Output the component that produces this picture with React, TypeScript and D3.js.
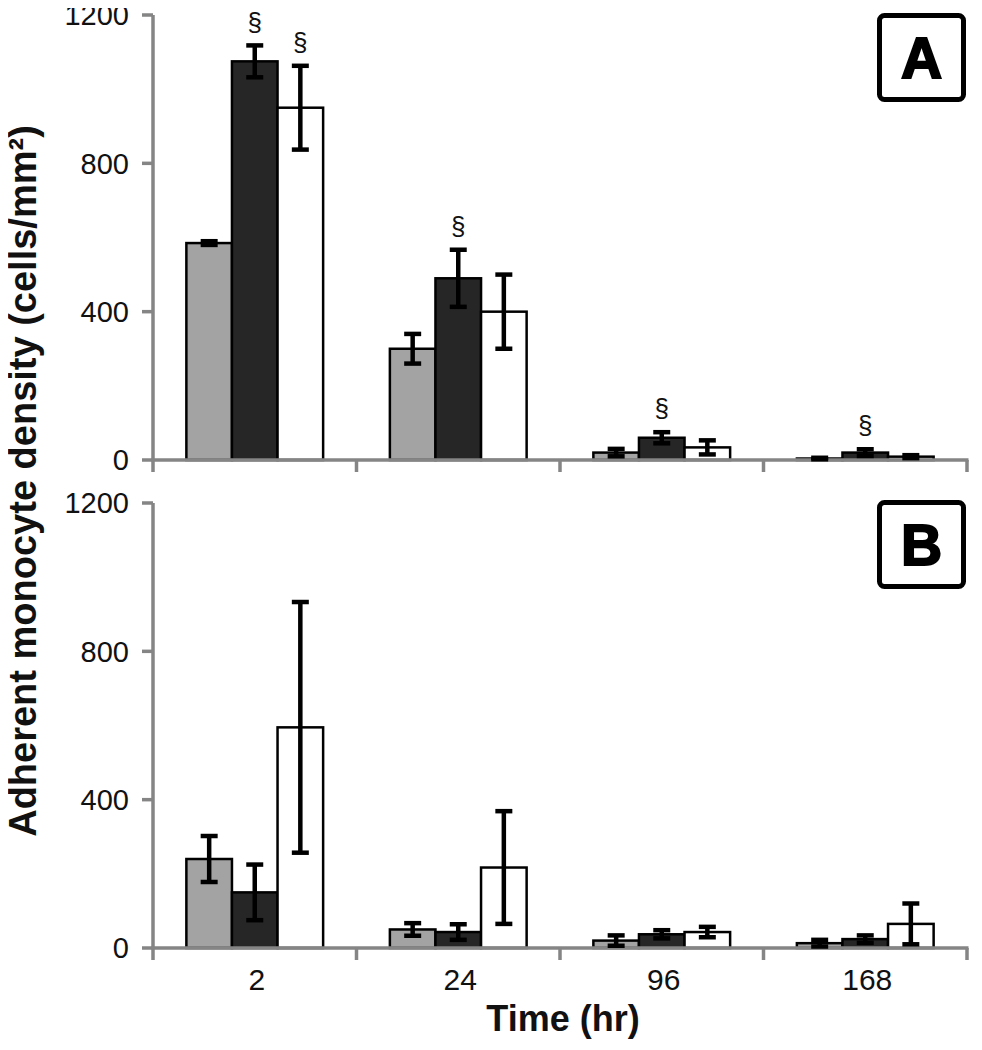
import React from "react";
import * as d3 from "d3";

const categories = ["2", "24", "96", "168"];
const seriesNames = ["gray", "dark", "white"];
const seriesFill = ["#a3a3a3", "#262626", "#ffffff"];
const yTicks = [0, 400, 800, 1200];

// Panel A
const aGray = [585, 300, 20, 4];
const aGrayErr = [5, 40, 10, 2];
const aDark = [1075, 490, 60, 20];
const aDarkErr = [43, 77, 15, 9];
const aWhite = [950, 400, 34, 9];
const aWhiteErr = [113, 100, 19, 4];
const aSigDark = [true, true, true, true];
const aSigWhite = [true, false, false, false];

// Panel B
const bGray = [240, 50, 20, 13];
const bGrayErr = [62, 17, 14, 9];
const bDark = [150, 43, 37, 24];
const bDarkErr = [75, 21, 11, 10];
const bWhite = [595, 217, 43, 65];
const bWhiteErr = [338, 152, 14, 55];

const W = 982;
const H = 1050;
const xLeft = 153;
const xRight = 967;
const FONT = "'Liberation Sans', Arial, sans-serif";
const AXIS = "#858585";

type PanelProps = {
  top: number;
  base: number;
  values: number[][];
  errs: number[][];
  sig: boolean[][];
  label: string;
  boxTop: number;
  showXLabels: boolean;
};

function Panel({ top, base, values, errs, sig, label, boxTop, showXLabels }: PanelProps) {
  const x = d3.scaleBand<string>().domain(categories).range([xLeft, xRight]).paddingInner(0).paddingOuter(0);
  const groupW = x.bandwidth() * 0.672;
  const inner = d3.scaleBand<string>().domain(seriesNames).range([0, groupW]);
  const y = d3.scaleLinear().domain([0, 1200]).range([base, top]);
  const capW = 17;
  return (
    <g>
      {categories.map((c, i) => {
        const g0 = (x(c) as number) + (x.bandwidth() - groupW) / 2;
        return (
          <g key={c}>
            {seriesNames.map((s, k) => {
              const v = values[k][i];
              const bx = g0 + (inner(s) as number);
              return (
                <rect
                  key={s}
                  x={bx}
                  y={y(v)}
                  width={inner.bandwidth()}
                  height={base - y(v)}
                  fill={seriesFill[k]}
                  stroke="#000"
                  strokeWidth={2.5}
                />
              );
            })}
          </g>
        );
      })}
      <line x1={xLeft} x2={xLeft} y1={top} y2={base + 12} stroke={AXIS} strokeWidth={3.5} />
      <line x1={xLeft - 1.5} x2={xRight + 1.5} y1={base} y2={base} stroke={AXIS} strokeWidth={3.5} />
      {yTicks.map((t) => (
        <g key={t}>
          <line x1={xLeft - 11} x2={xLeft} y1={y(t)} y2={y(t)} stroke={AXIS} strokeWidth={3.5} />
          <text x={129} y={y(t)} dy="0.36em" textAnchor="end" fontFamily={FONT} fontSize={29} fill="#111">
            {t}
          </text>
        </g>
      ))}
      {categories.map((c) => (
        <line
          key={c}
          x1={(x(c) as number) + x.bandwidth()}
          x2={(x(c) as number) + x.bandwidth()}
          y1={base}
          y2={base + 12}
          stroke={AXIS}
          strokeWidth={3.5}
        />
      ))}
      {showXLabels &&
        categories.map((c) => (
          <text
            key={c}
            x={(x(c) as number) + x.bandwidth() / 2 + 2}
            y={base + 42}
            textAnchor="middle"
            fontFamily={FONT}
            fontSize={30}
            fill="#111"
          >
            {c}
          </text>
        ))}
      {categories.map((c, i) => {
        const g0 = (x(c) as number) + (x.bandwidth() - groupW) / 2;
        return seriesNames.map((s, k) => {
          const v = values[k][i];
          const e = errs[k][i];
          const cx = g0 + (inner(s) as number) + inner.bandwidth() / 2;
          const y1 = y(v + e);
          const y2 = y(Math.max(0, v - e));
          return (
            <g key={c + s}>
              <line x1={cx} x2={cx} y1={y1} y2={y2} stroke="#000" strokeWidth={4.5} />
              <line x1={cx - capW / 2} x2={cx + capW / 2} y1={y1} y2={y1} stroke="#000" strokeWidth={4.5} />
              <line x1={cx - capW / 2} x2={cx + capW / 2} y1={y2} y2={y2} stroke="#000" strokeWidth={4.5} />
              {sig[k][i] && (
                <text
                  x={cx}
                  y={y1 - 24}
                  dy="0.35em"
                  textAnchor="middle"
                  fontFamily={FONT}
                  fontSize={26}
                  fill="#111"
                >
                  §
                </text>
              )}
            </g>
          );
        });
      })}
      <rect x={879.5} y={boxTop + 2.5} width={84} height={84} rx={5} fill="#fff" stroke="#000" strokeWidth={5} />
      <text
        x={921.5}
        y={boxTop + 44.5}
        dy="0.36em"
        textAnchor="middle"
        fontFamily={FONT}
        fontWeight="bold"
        fontSize={57}
        stroke="#000"
        strokeWidth={2}
        fill="#000"
      >
        {label}
      </text>
    </g>
  );
}

export default function App() {
  const none = [false, false, false, false];
  return (
    <svg width={W} height={H} viewBox={`0 0 ${W} ${H}`} style={{ display: "block", margin: "-8px", background: "#fff" }}>
      <rect width={W} height={H} fill="#fff" />
      <Panel
        top={15}
        base={460}
        values={[aGray, aDark, aWhite]}
        errs={[aGrayErr, aDarkErr, aWhiteErr]}
        sig={[none, aSigDark, aSigWhite]}
        label="A"
        boxTop={13}
        showXLabels={false}
      />
      <Panel
        top={503}
        base={948}
        values={[bGray, bDark, bWhite]}
        errs={[bGrayErr, bDarkErr, bWhiteErr]}
        sig={[none, none, none]}
        label="B"
        boxTop={500}
        showXLabels={true}
      />
      <text
        x={563}
        y={1031}
        textAnchor="middle"
        fontFamily={FONT}
        fontWeight="bold"
        fontSize={36}
        fill="#111"
      >
        Time (hr)
      </text>
      <text
        transform={`translate(36, 481) rotate(-90)`}
        textAnchor="middle"
        fontFamily={FONT}
        fontWeight="bold"
        fontSize={38}
        fill="#111"
      >
        Adherent monocyte density (cells/mm²)
      </text>
    </svg>
  );
}
